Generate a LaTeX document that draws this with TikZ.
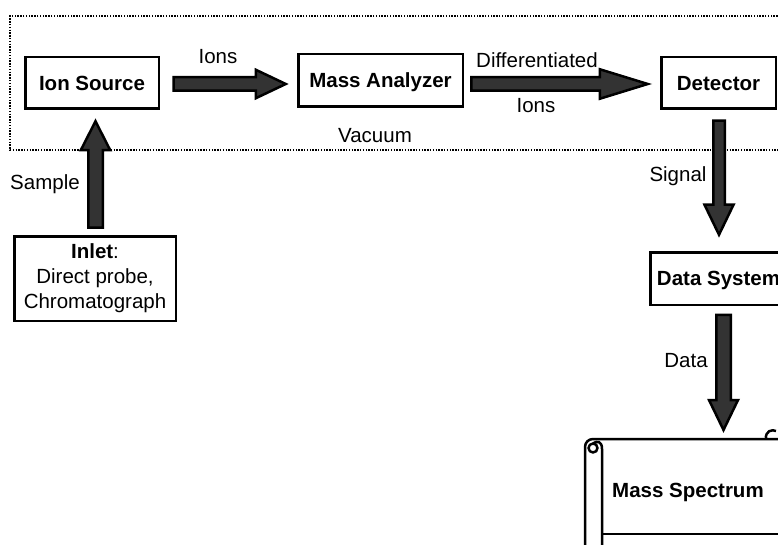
\documentclass[tikz,border=0pt]{standalone}
\usepackage{fontspec}
\setmainfont{Liberation Sans}
\usetikzlibrary{calc}
\tikzset{
  box/.style={draw, line width=2.5pt, font=\bfseries\fontsize{20.5}{25}\selectfont, text height=14.7pt, text depth=0pt, inner sep=0pt},
  mlbox/.style={draw, line width=2.5pt, font=\fontsize{20.5}{25}\selectfont, inner sep=0pt, align=center},
  lbl/.style={font=\fontsize{20.5}{25}\selectfont, inner sep=0pt, anchor=base},
  fat/.style={draw=black, fill=black!80, line width=2.5pt, line join=miter},
  frame/.style={line width=1.6pt, dash pattern=on 1.4pt off 1.4pt},
  scroll/.style={line width=2.5pt, line join=round}
}
\newcommand\fatarrow[5]{%
  \coordinate (fac) at ($(#2)!#5!(#1)$);
  \draw[fat] ($(#1)!#3!90:(#2)$) -- ($(fac)!#3!90:(#2)$) -- ($(fac)!#4!90:(#2)$) -- (#2)
     -- ($(fac)!#4!-90:(#2)$) -- ($(fac)!#3!-90:(#2)$) -- ($(#1)!#3!-90:(#2)$) -- cycle;
}
\begin{document}
\begin{tikzpicture}[x=1pt,y=-1pt]
\useasboundingbox (0,0) rectangle (778,545);
\clip (0,0) rectangle (778,545);
\fill[white] (0,0) rectangle (778,545);

% vacuum frame
\draw[frame] (800,16) -- (10,16) -- (10,150) -- (800,150);

% boxes
\node[box, minimum width=133.5pt, minimum height=51.5pt] (ion) at (92,83) {Ion Source};
\node[box, minimum width=164.5pt, minimum height=52.5pt] (ma) at (380.5,80.5) {Mass Analyzer};
\node[box, minimum width=114.5pt, minimum height=51.5pt] (det) at (718.5,83) {Detector};
\node[box, minimum width=136.5pt, minimum height=52.5pt] (ds) at (718.5,278.5) {Data System};
\node[mlbox, minimum width=161.5pt, minimum height=84.5pt] (inlet) at (95,278.5) {{\bfseries Inlet}:\\Direct probe,\\Chromatograph};

% mass spectrum scroll
\draw[scroll, rounded corners=8pt] (585,560) -- (585,439) -- (800,439);
\draw[scroll] (602,560) -- (602,449) .. controls (602,441) and (597,440.5) .. (593,443.5);
\draw[scroll] (593,448) circle (4.5);
\draw[scroll] (602,534) -- (800,534);
\draw[scroll] (766,439) .. controls (765,431) and (772,429) .. (776,431);
\node[lbl, font=\bfseries\fontsize{20.5}{25}\selectfont] (spec) at (688,497) {Mass Spectrum};

% connectors
\coordinate (i1) at ($(ion.east)+(13.5,1)$);
\coordinate (i2) at ($(ma.west)+(-11.25,3.5)$);
\fatarrow{i1}{i2}{6.75pt}{14.25pt}{30pt}

\coordinate (d1) at ($(ma.east)+(7.25,3.5)$);
\coordinate (d2) at ($(det.west)+(-12.25,1)$);
\fatarrow{d1}{d2}{6.75pt}{14.75pt}{48pt}

\coordinate (s1) at ($(det.south)+(0.5,10.75)$);
\coordinate (s2) at ($(ds.north)+(0.5,-16.25)$);
\fatarrow{s1}{s2}{5.75pt}{14.5pt}{30pt}

\coordinate (t1) at ($(ds.south)+(5,8.75)$);
\coordinate (t2) at (723.5,430);
\fatarrow{t1}{t2}{7.25pt}{14.5pt}{30pt}

\coordinate (p1) at ($(inlet.north)+(0.5,-7.25)$);
\coordinate (p2) at ($(ion.south)+(3.5,11.25)$);
\fatarrow{p1}{p2}{7.25pt}{14.75pt}{29pt}

% labels
\node[lbl] (lions) at (218,64) {Ions};
\node[lbl] (ldiff) at (537,68) {Differentiated};
\node[lbl] (lions2) at (536,113) {Ions};
\node[lbl] (lvac) at (375,143) {Vacuum};
\node[lbl] (lsig) at (678,182) {Signal};
\node[lbl] (lsam) at (45,190) {Sample};
\node[lbl] (ldata) at (686,367) {Data};
\end{tikzpicture}
\end{document}
